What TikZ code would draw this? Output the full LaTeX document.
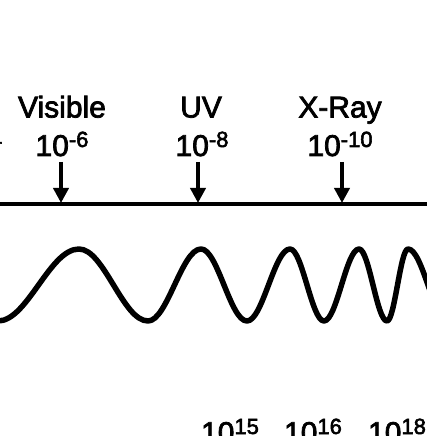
\documentclass[tikz,border=0pt]{standalone}
\usepackage{fontspec}
\setmainfont{Liberation Sans}
\newfontfamily\lblfont{Liberation Sans}[FakeBold=2.5]
\usetikzlibrary{arrows.meta}
\def \wy{151}
\newcommand{\sexp}[1]{\raisebox{9pt}{\fontsize{22}{22}\selectfont #1}}
\tikzset{
  lbl/.style={font=\lblfont\fontsize{30}{36}\selectfont, inner sep=0pt, anchor=base},
  ptr/.style={line width=4pt, -{Triangle[width=15pt,length=15pt]}},
  wave/.style={line width=5.5pt, line cap=round, line join=round}
}
\begin{document}
\begin{tikzpicture}[x=1pt, y=1pt]
    \useasboundingbox (0,0) rectangle (426,436);
    % labels
    \node[lbl, anchor=base east] (irexp) at (2.5,280) {10\sexp{-4}};
    \node[lbl] (vis) at (62,318.5) {Visible};
    \node[lbl] (visexp) at (62,280) {10\sexp{-6}};
    \node[lbl] (uv) at (201,318.5) {UV};
    \node[lbl] (uvexp) at (202,280) {10\sexp{-8}};
    \node[lbl] (xray) at (340,318.5) {X-Ray};
    \node[lbl] (xrayexp) at (340,280) {10\sexp{-10}};
    % axis
    \coordinate (axl) at (-5,232);
    \coordinate (axr) at (431,232);
    \draw[line width=4.5pt] (axl) -- (axr);
    \coordinate (vistop) at (61,274);
    \coordinate (visax) at (61,233);
    \coordinate (uvtop) at (198,274);
    \coordinate (uvax) at (198,233);
    \coordinate (xraytop) at (342,274);
    \coordinate (xrayax) at (342,233);
    \draw[ptr] (vistop) -- (visax);
    \draw[ptr] (uvtop) -- (uvax);
    \draw[ptr] (xraytop) -- (xrayax);
    % wave, trough to peak and back
    \draw[wave] (-2,\wy-36)
      \foreach \xa/\xb/\yb in {-2/79/187, 79/148/115, 148/201/187, 201/247/115,
          247/290/187, 290/324/115, 324/359/187, 359/387/115, 387/408/187, 408/448/115}
        { cos ({(\xa+\xb)/2},\wy) sin (\xb,\yb) };
    % frequencies
    \node[lbl] (f15) at (230,-7) {10\sexp{15}};
    \node[lbl] (f16) at (313,-7) {10\sexp{16}};
    \node[lbl] (f18) at (397,-7) {10\sexp{18}};
\end{tikzpicture}
\end{document}
